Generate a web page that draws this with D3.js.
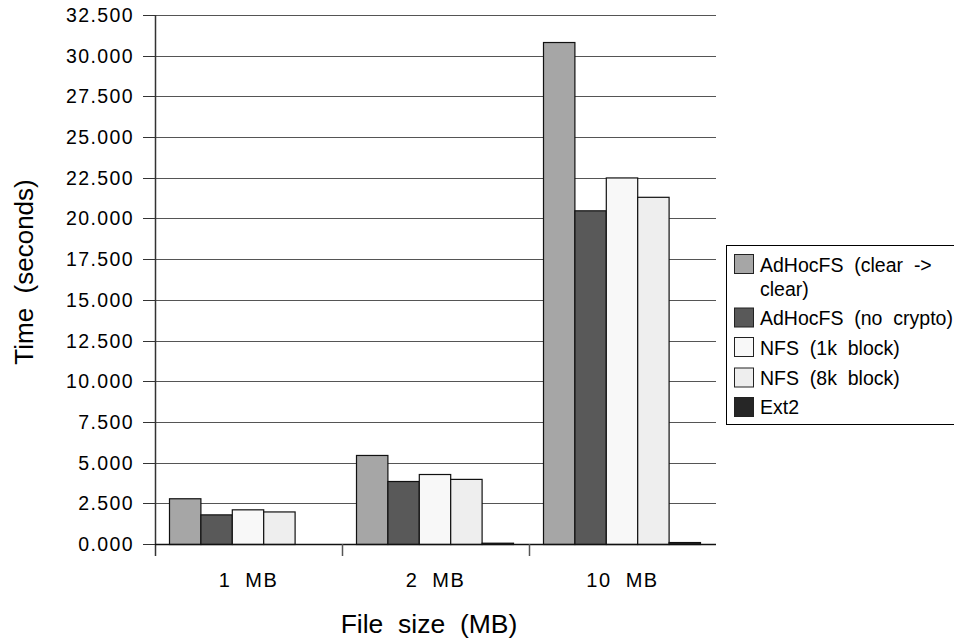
<!DOCTYPE html>
<html>
<head>
<meta charset="utf-8">
<script src="https://cdn.jsdelivr.net/npm/d3@7"></script>
<style>
  html, body { margin: 0; padding: 0; background: #fff; }
  svg { display: block; }
  text { font-family: "Liberation Sans", Arial, sans-serif; fill: #000; white-space: pre; }
</style>
</head>
<body>
<svg id="chart" width="954" height="641"></svg>
<script>
const categories = ["1  MB", "2  MB", "10  MB"];
const seriesNames = ["AdHocFS  (clear  ->\nclear)", "AdHocFS  (no  crypto)", "NFS  (1k  block)", "NFS  (8k  block)", "Ext2"];
const seriesColors = ["#a6a6a6", "#595959", "#f8f8f8", "#eeeeee", "#262626"];
const clearValues    = [2.81, 5.47, 30.84];
const noCryptoValues = [1.82, 3.87, 20.50];
const nfs1kValues    = [2.13, 4.30, 22.52];
const nfs8kValues    = [2.00, 4.00, 21.33];
const ext2Values     = [0.00, 0.08, 0.12];
const seriesValues = [clearValues, noCryptoValues, nfs1kValues, nfs8kValues, ext2Values];
const yTicks = d3.range(0, 32.5001, 2.5);

const svg = d3.select("#chart");
const pLeft = 155, pRight = 716, pTop = 15, pBottom = 544;

const x0 = d3.scaleBand().domain(categories).range([pLeft, pRight]).padding(0);
const x1 = d3.scaleBand().domain(d3.range(seriesNames.length)).range([14, 171]).padding(0);
const y = d3.scaleLinear().domain([0, 32.5]).range([pBottom, pTop]);

// gridlines
svg.append("g").selectAll("line").data(yTicks.filter(d => d > 0)).join("line")
  .attr("x1", pLeft).attr("x2", pRight)
  .attr("y1", d => Math.round(y(d)) + 0.5).attr("y2", d => Math.round(y(d)) + 0.5)
  .attr("stroke", "#555").attr("stroke-width", 1);

// y tick marks and labels
const fmt = d3.format(".3f");
const yg = svg.append("g");
yg.selectAll("line").data(yTicks).join("line")
  .attr("x1", pLeft - 12).attr("x2", pLeft)
  .attr("y1", d => Math.round(y(d)) + 0.5).attr("y2", d => Math.round(y(d)) + 0.5)
  .attr("stroke", "#333");
yg.selectAll("text").data(yTicks).join("text")
  .attr("x", 134).attr("y", d => y(d) + 7)
  .attr("text-anchor", "end")
  .attr("font-size", 19.5).attr("letter-spacing", 1.4)
  .text(d => fmt(d));

// bars
const barRows = [];
categories.forEach((c, ci) => {
  seriesValues.forEach((vals, si) => barRows.push({c, si, v: vals[ci]}));
});
svg.append("g").selectAll("rect").data(barRows.filter(d => d.v > 0)).join("rect")
  .attr("x", d => x0(d.c) + x1(d.si) + 0.5)
  .attr("width", x1.bandwidth())
  .attr("y", d => y(d.v) + 0.5)
  .attr("height", d => Math.max(0, y(0) - y(d.v)))
  .attr("fill", d => seriesColors[d.si])
  .attr("stroke", "#111").attr("stroke-width", 1.2);

// axes lines
svg.append("line").attr("x1", pLeft + 0.5).attr("x2", pLeft + 0.5).attr("y1", pTop).attr("y2", pBottom + 12)
  .attr("stroke", "#333").attr("stroke-width", 1.5);
svg.append("line").attr("x1", pLeft).attr("x2", pRight).attr("y1", pBottom + 0.5).attr("y2", pBottom + 0.5)
  .attr("stroke", "#111").attr("stroke-width", 1.5);
// category ticks
svg.append("g").selectAll("line").data(categories.slice(1)).join("line")
  .attr("x1", d => x0(d) + 0.5).attr("x2", d => x0(d) + 0.5)
  .attr("y1", pBottom).attr("y2", pBottom + 12)
  .attr("stroke", "#555").attr("stroke-width", 1.5);
// category labels
svg.append("g").selectAll("text").data(categories).join("text")
  .attr("x", d => x0(d) + x0.bandwidth() / 2)
  .attr("y", 587)
  .attr("text-anchor", "middle")
  .attr("font-size", 20).attr("letter-spacing", 1.5)
  .text(d => d);

// axis titles
svg.append("text")
  .attr("transform", "translate(33," + 272 + ") rotate(-90)")
  .attr("text-anchor", "middle")
  .attr("font-size", 26).attr("letter-spacing", 0)
  .text("Time  (seconds)");
svg.append("text")
  .attr("x", 429).attr("y", 633)
  .attr("text-anchor", "middle")
  .attr("font-size", 26.5).attr("letter-spacing", 0)
  .text("File  size  (MB)");

// legend
const lg = svg.append("g");
lg.append("rect").attr("x", 726.5).attr("y", 245.5).attr("width", 260).attr("height", 179)
  .attr("fill", "#fff").attr("stroke", "#000").attr("stroke-width", 1);
const swatchTops = [254, 307.5, 337, 367.5, 397];
const textBase = [272, 325, 355, 385, 414];
seriesNames.forEach((name, i) => {
  lg.append("rect").attr("x", 734.5).attr("y", swatchTops[i] + 0.5).attr("width", 19).attr("height", 19)
    .attr("fill", seriesColors[i]).attr("stroke", "#222").attr("stroke-width", 1);
  const lines = name.split("\n");
  lines.forEach((ln, k) => {
    lg.append("text").attr("x", 760).attr("y", textBase[i] + k * 24)
      .attr("font-size", 19.5).attr("letter-spacing", 0)
      .text(ln);
  });
});
</script>
</body>
</html>
